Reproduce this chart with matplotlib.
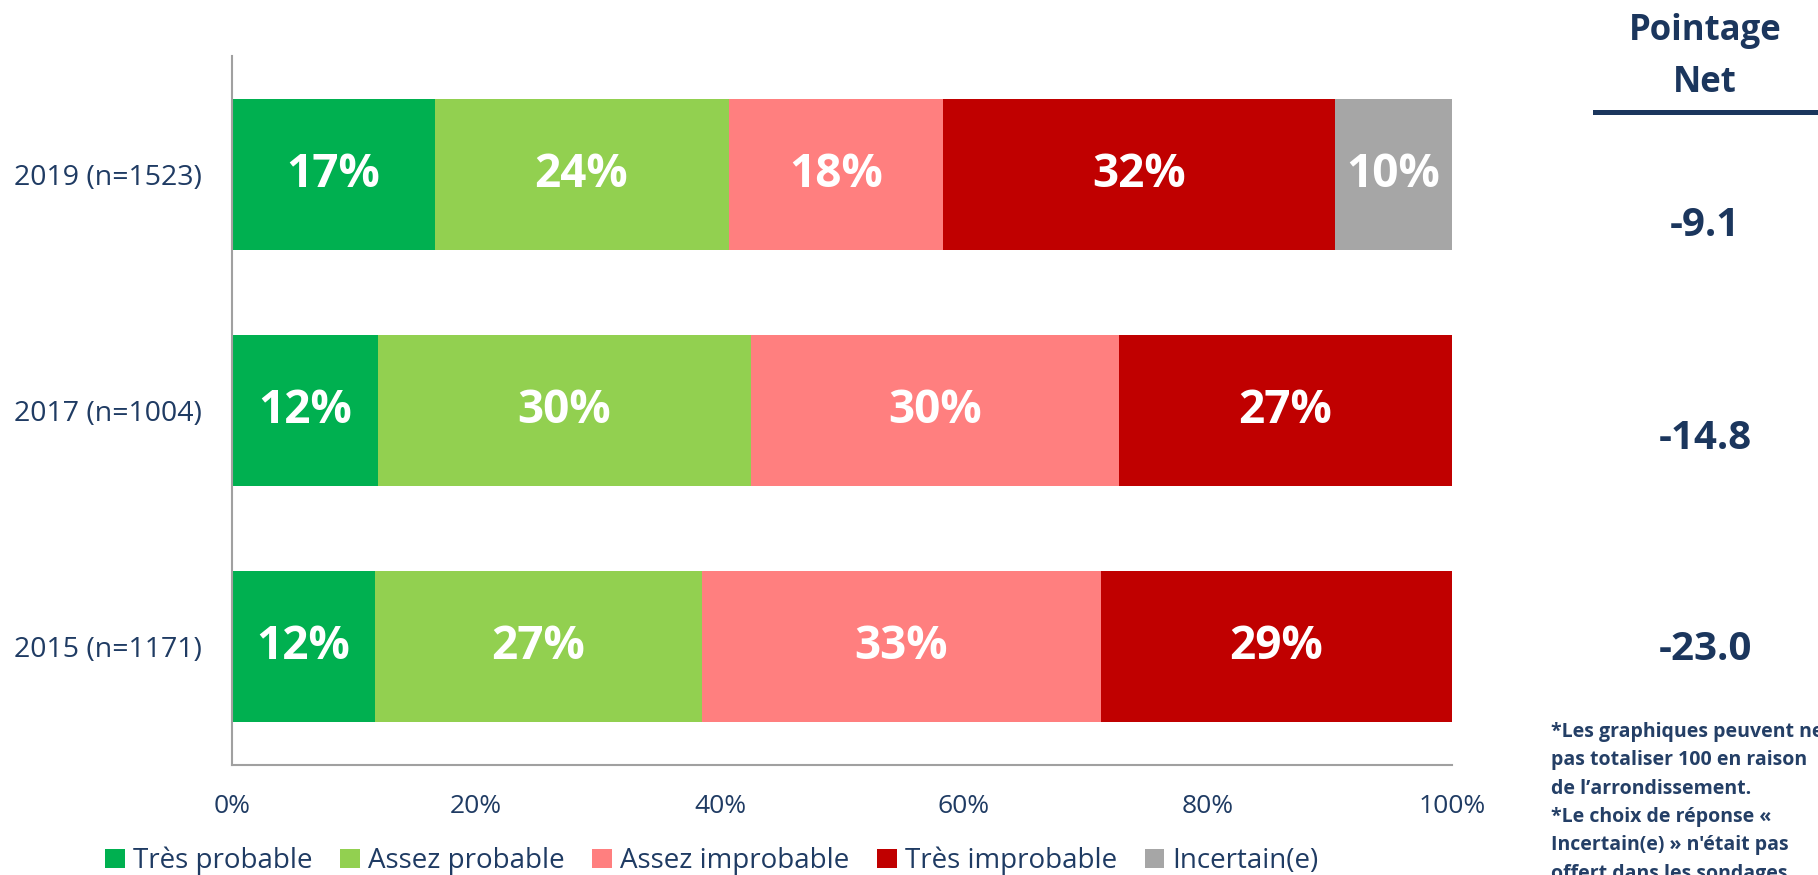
import numpy as np
import matplotlib.pyplot as plt

years = ["2019 (n=1523)", "2017 (n=1004)", "2015 (n=1171)"]
categories = ["Très probable", "Assez probable", "Assez improbable", "Très improbable", "Incertain(e)"]
colors = ["#00B050", "#92D050", "#FF7F7F", "#C00000", "#A6A6A6"]

tres_probable = [16.6, 12.0, 11.7]
assez_probable = [24.1, 30.5, 26.8]
assez_improbable = [17.6, 30.2, 32.7]
tres_improbable = [32.1, 27.3, 28.8]
incertain = [9.6, 0.0, 0.0]

net_scores = ["-9.1", "-14.8", "-23.0"]
net_y = [225, 439, 650]  # pixel rows of the net score column

navy = "#1F3B63"
plt.rcParams["font.family"] = ["Open Sans", "DejaVu Sans"]

fig = plt.figure(figsize=(18.18, 8.75), dpi=100)
ax = fig.add_axes([232 / 1818, 1 - 765 / 875, (1452 - 232) / 1818, (765 - 56) / 875])

series = [tres_probable, assez_probable, assez_improbable, tres_improbable, incertain]
y = np.arange(len(years))
left = np.zeros(len(years))
for name, vals, col in zip(categories, series, colors):
    vals = np.array(vals)
    bars = ax.barh(y, vals, left=left, height=0.64, color=col, label=name)
    for b, v in zip(bars, vals):
        if v > 0:
            ax.text(b.get_x() + b.get_width() / 2, b.get_y() + b.get_height() / 2,
                    f"{v:.0f}%", ha="center", va="center", color="white",
                    fontsize=33, fontweight="bold")
    left += vals

ax.set_xlim(0, 100)
ax.set_ylim(len(years) - 0.5, -0.5)
ax.set_yticks(y)
ax.set_yticklabels(years, fontsize=20.5, color=navy)
ax.set_xticks([0, 20, 40, 60, 80, 100])
ax.set_xticklabels([f"{t}%" for t in [0, 20, 40, 60, 80, 100]], fontsize=19, color=navy)
ax.tick_params(axis="y", length=0, pad=22)
ax.tick_params(axis="x", length=0, pad=21)
for s in ["top", "right"]:
    ax.spines[s].set_visible(False)
for s in ["left", "bottom"]:
    ax.spines[s].set_color("#A0A0A0")
    ax.spines[s].set_linewidth(1.5)

fig.legend(loc="center", bbox_to_anchor=(712 / 1818, 1 - 861 / 875), ncol=5,
           frameon=False, fontsize=20, handlelength=0.7, handleheight=0.7,
           handletextpad=0.3, columnspacing=1.0, labelcolor=navy, borderaxespad=0)

# Pointage Net column
hx = 1705 / 1818
fig.text(hx, 1 - 40 / 875, "Pointage", ha="center", va="baseline",
         fontsize=25, fontweight="bold", color="#1B365D")
fig.text(hx, 1 - 92 / 875, "Net", ha="center", va="baseline",
         fontsize=25, fontweight="bold", color="#1B365D")
fig.add_artist(plt.Line2D([1595 / 1818, 1.0], [1 - 112 / 875] * 2,
                          transform=fig.transFigure, color="#1B365D", lw=3.6))
for s, py in zip(net_scores, net_y):
    fig.text(hx, 1 - py / 875, s, ha="center", va="center",
             fontsize=29, fontweight="bold", color="#1B365D")

notes = ["*Les graphiques peuvent ne", "pas totaliser 100 en raison",
         "de l\u2019arrondissement.", "*Le choix de réponse «",
         "Incertain(e) » n'était pas", "offert dans les sondages"]
for i, line in enumerate(notes):
    fig.text(1551 / 1818, 1 - (737 + 28.3 * i) / 875, line, ha="left", va="baseline",
             fontsize=14, fontweight="bold", color="#243F66")

fig.savefig("out.png", dpi=100)
